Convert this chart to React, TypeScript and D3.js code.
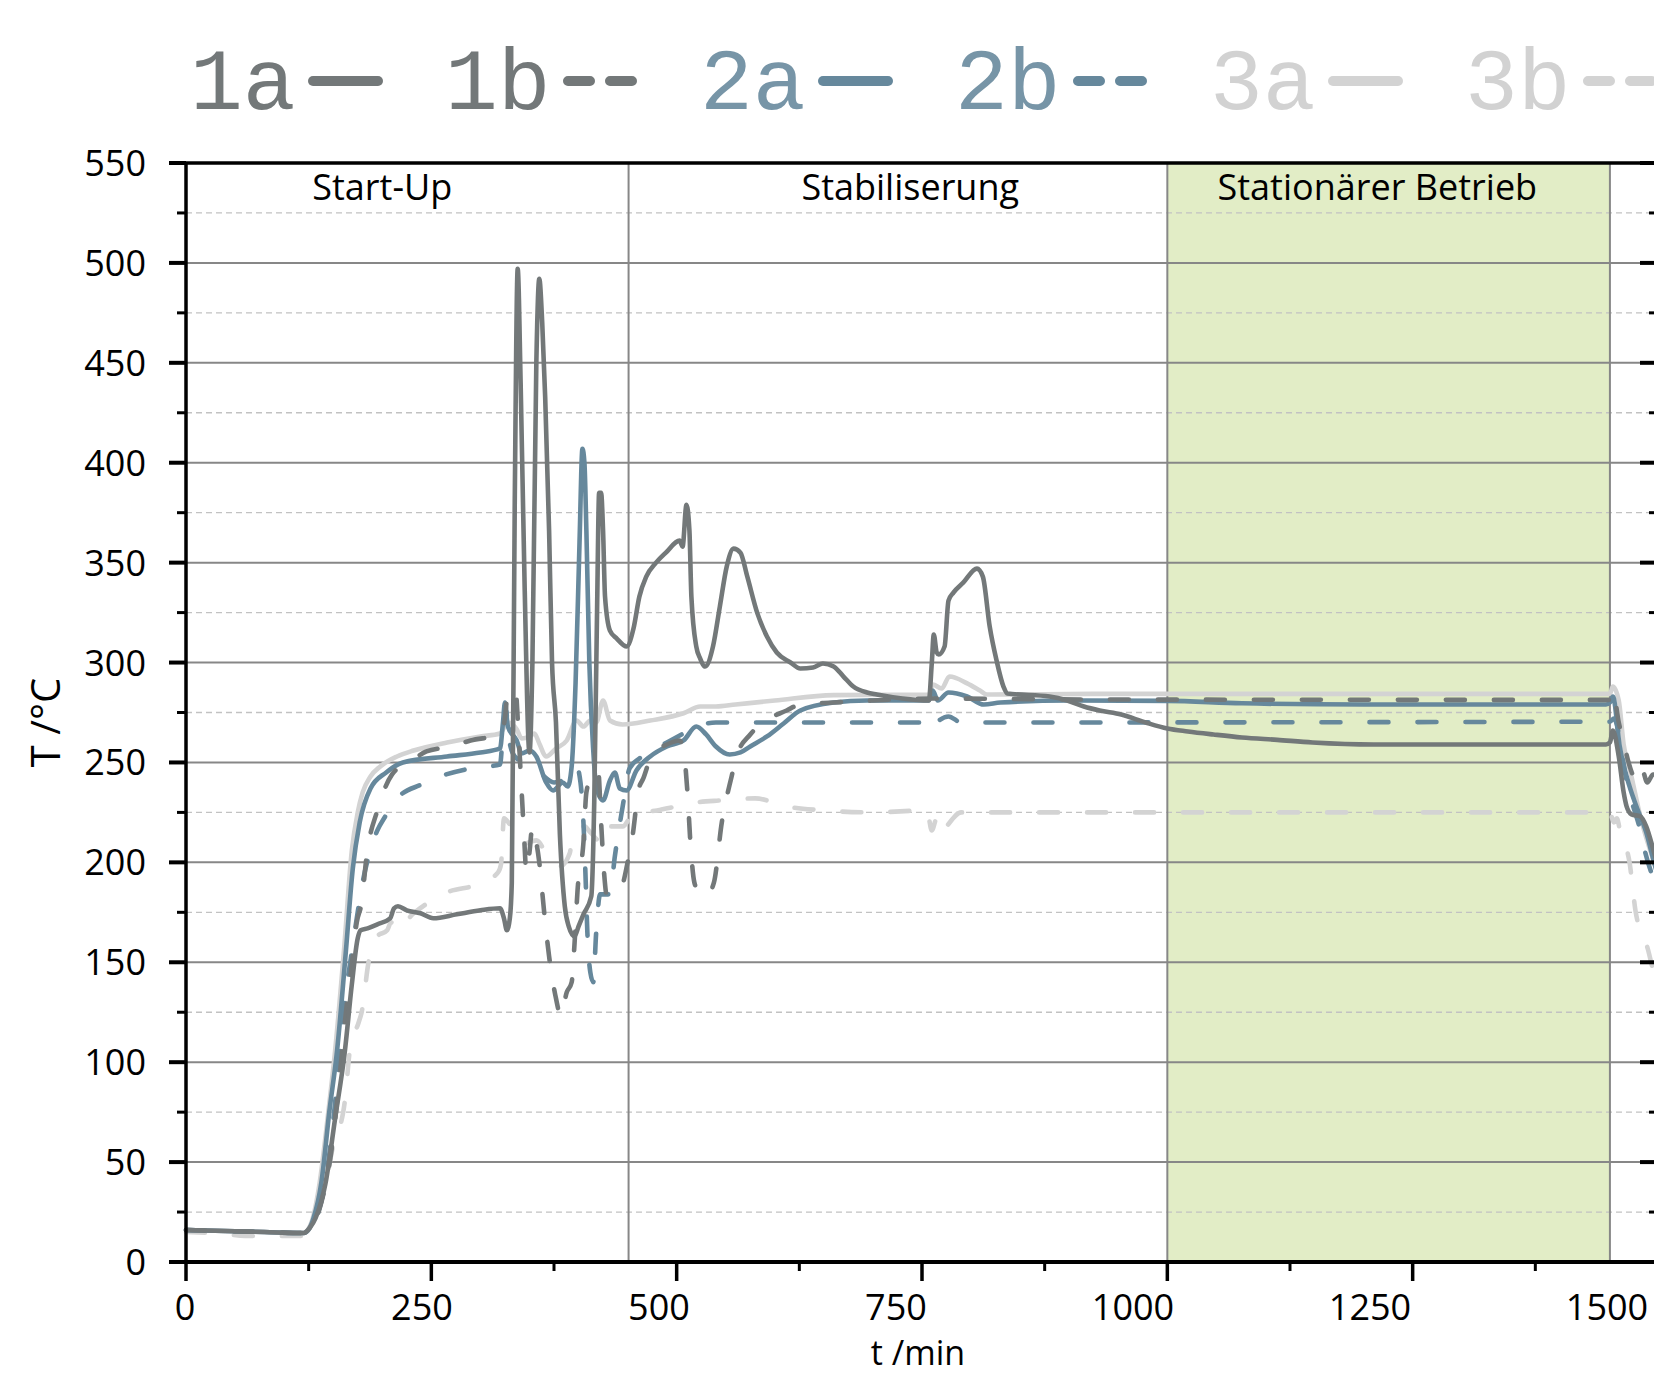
import * as d3 from "d3";

const W = 1654;
const H = 1376;
const PLOT = { left: 186, right: 1658, top: 163, bottom: 1262 };

// t (min), T (°C)
const s1a: [number, number][] = [
  [0, 16], [40, 15.5], [80, 15], [120, 14.5], [126, 17], [132, 22], [142, 39], [152, 72], [162, 106],
  [169, 139], [175, 162], [178, 166], [185, 167], [195, 169], [208, 172], [212, 177], [216, 178],
  [225, 176], [239, 174.5], [252, 172], [276, 174], [300, 176], [320, 177], [324, 172], [327, 166],
  [330, 172], [332, 190], [335, 380], [338, 497], [341, 440], [345, 340], [350, 255], [353, 300],
  [357, 450], [360, 492], [363, 470], [366, 433], [370, 366], [373, 300], [377, 270], [381, 214],
  [386, 178], [390, 168], [396, 163], [400, 168], [405, 174], [413, 183], [416, 230], [419, 330],
  [421, 385], [423, 385], [425, 366], [427, 333], [432, 316], [439, 312], [449, 308], [456, 317],
  [462, 333], [469, 343], [479, 350], [489, 355], [503, 361], [506, 358], [510, 379], [513, 366],
  [515, 333], [520, 308], [524, 302], [529, 298], [537, 308], [544, 328], [551, 348], [558, 357],
  [565, 355], [572, 343], [582, 325], [592, 313], [602, 305], [616, 300], [626, 297], [639, 297.5],
  [649, 299.5], [660, 298], [670, 293], [680, 288], [694, 285], [704, 284], [730, 282], [757, 281],
  [760, 300], [762, 314], [765, 305], [767, 304], [773, 308], [777, 331], [782, 335], [792, 340],
  [806, 347], [812, 343], [819, 318], [826, 301], [833, 288], [837, 284.5], [880, 283], [898, 281],
  [915, 278], [931, 276], [953, 274], [978, 270], [1000, 267], [1021, 265.5], [1047, 264],
  [1076, 262.5], [1112, 261.3], [1148, 260], [1210, 259], [1447, 259], [1451, 260], [1454, 266],
  [1460, 253], [1465, 235], [1468, 228], [1473, 224], [1482, 223], [1488, 218], [1496, 205], [1500, 198],
];

const s1b: [number, number][] = [
  [0, 16], [40, 15.5], [80, 15], [120, 14.5], [128, 18], [138, 30], [148, 55], [157, 95], [163, 125],
  [168, 145], [174, 170], [179, 180], [184, 203], [195, 226], [210, 244], [230, 251], [245, 255.5],
  [270, 258], [290, 261], [320, 264], [325, 272], [328, 285], [336, 286], [338, 272], [341, 245],
  [344, 218], [347, 195], [350, 205], [353, 218], [357, 210], [360, 200], [365, 175], [370, 153],
  [377, 132], [382, 123], [388, 135], [393, 140], [396, 160], [399, 186], [405, 210], [408, 235],
  [414, 244], [420, 246], [423, 220], [426, 195], [429, 183], [436, 185], [444, 188], [450, 200],
  [455, 213], [461, 236], [466, 242], [475, 254], [490, 259], [503, 261], [508, 252], [511, 235],
  [514, 210], [518, 190], [524, 184], [530, 183], [538, 190], [546, 220], [556, 243], [561, 253],
  [575, 264], [585, 269], [612, 276], [626, 279], [660, 280], [700, 281], [760, 282], [930, 281.5],
  [1451, 281.3], [1454, 286], [1460, 270], [1466, 258], [1470, 250], [1476, 242], [1480, 240],
  [1484, 246], [1489, 240], [1495, 244], [1500, 243],
];

const s2a: [number, number][] = [
  [0, 16], [40, 15.5], [80, 15], [120, 14.5], [126, 17], [130, 22], [138, 40], [146, 75], [154, 106],
  [163, 156], [170, 197], [177, 220], [188, 237], [204, 245], [221, 250], [266, 253], [300, 255],
  [320, 257], [323, 270], [325, 280], [328, 268], [337, 261], [342, 254.5], [350, 256], [357, 253],
  [367, 240], [374, 236], [384, 240], [389, 238], [393, 248], [397, 290], [401, 360], [404, 407],
  [406, 400], [408, 366], [411, 300], [415, 256], [418, 238], [425, 231], [432, 241], [437, 245],
  [442, 237], [449, 236], [459, 246], [473, 253], [490, 258], [507, 261], [520, 268], [530, 264],
  [540, 258], [554, 254], [565, 255], [575, 258], [592, 263], [609, 269.5], [626, 276], [660, 280],
  [694, 281], [757, 281], [761, 286], [766, 281], [777, 285], [796, 283], [813, 279], [830, 280],
  [900, 281], [1000, 280.8], [1076, 279.6], [1200, 279], [1447, 279], [1451, 280], [1454, 283],
  [1461, 258], [1471, 238], [1478, 228], [1488, 215], [1496, 200], [1500, 193],
];

const s2b: [number, number][] = [
  [0, 16], [40, 15.5], [80, 15], [120, 14.5], [128, 18], [135, 25], [145, 50], [152, 80], [157, 105],
  [163, 135], [168, 152], [174, 172], [180, 190], [186, 203], [195, 216], [203, 223], [215, 232],
  [240, 239], [265, 244], [290, 247], [320, 249], [323, 265], [326, 276], [329, 262], [335, 253],
  [345, 250], [360, 245], [375, 240], [390, 243], [398, 248], [402, 240], [405, 220], [407, 195],
  [409, 165], [412, 145], [415, 140], [418, 165], [422, 184], [432, 184], [437, 203], [445, 228],
  [452, 247], [462, 252], [475, 256], [490, 260], [505, 264], [520, 268], [540, 270], [750, 270],
  [758, 266], [765, 270], [777, 273], [790, 270], [1451, 270.4], [1455, 272], [1468, 241],
  [1473, 231], [1482, 216], [1487, 205], [1496, 191], [1500, 186],
];

const s3a: [number, number][] = [
  [0, 16], [40, 15.5], [80, 15], [120, 14.5], [124, 16], [128, 20], [136, 39], [145, 75], [152, 106],
  [161, 156], [169, 206], [175, 225], [180, 235], [188, 243], [198, 248], [215, 253], [232, 256],
  [266, 260], [300, 263], [320, 264.5], [328, 270], [337, 266.6], [342, 262], [350, 263],
  [355, 264.5], [360, 259.5], [367, 253], [377, 257], [388, 261], [398, 271], [405, 268], [412, 271],
  [418, 270], [425, 281], [432, 271], [445, 269], [473, 271], [507, 274.6], [524, 278], [540, 278],
  [560, 279], [600, 281], [660, 283.7], [757, 284], [761, 289], [770, 287], [778, 293], [796, 289.6],
  [809, 286], [816, 284], [930, 284.3], [1451, 284.3], [1454, 288], [1460, 281], [1465, 259],
  [1472, 245], [1482, 223], [1496, 200], [1500, 194],
];

const s3b: [number, number][] = [
  [0, 15], [40, 14], [60, 13], [100, 13], [120, 13], [128, 18], [135, 28], [140, 34], [149, 56],
  [162, 81], [167, 106], [176, 120], [179, 125], [186, 150], [195, 163], [205, 166], [209, 170],
  [213, 166], [232, 174.5], [266, 185], [300, 189.5], [318, 195], [321, 199], [324, 222], [330, 219],
  [337, 214], [342, 209], [357, 211], [371, 201], [381, 198], [391, 204.5], [394, 213], [406, 218],
  [412, 215], [424, 210], [427, 218], [445, 218], [456, 224.5], [480, 226], [500, 228], [520, 230],
  [545, 231], [580, 232], [612, 228], [650, 226], [700, 225], [755, 226], [760, 216], [765, 222],
  [770, 215], [775, 218], [790, 225], [1451, 225], [1455, 220], [1458, 222], [1462, 214], [1471, 200],
  [1477, 176], [1490, 156], [1495, 146], [1500, 138],
];

const SERIES_LABELS = ["1a", "1b", "2a", "2b", "3a", "3b"];
const SERIES_DATA = [s1a, s1b, s2a, s2b, s3a, s3b];
const LINE_COLORS = ["#737879", "#737879", "#66889c", "#66889c", "#d3d3d3", "#d3d3d3"];
const TEXT_COLORS = ["#737879", "#737879", "#7795a7", "#7795a7", "#d2d2d2", "#d2d2d2"];
const DASHED = [false, true, false, true, false, true];
const DRAW_ORDER = [4, 5, 2, 3, 1, 0];

const PHASE_BOUNDS = [451, 1000, 1451];
const PHASE_LABELS = ["Start-Up", "Stabiliserung", "Stationärer Betrieb"];
const PHASE_LABEL_T = [200, 738, 1214];

const X_MAJOR = [0, 250, 500, 750, 1000, 1250, 1500];
const X_MINOR = [125, 375, 625, 875, 1125, 1375];
const Y_MAJOR = d3.range(0, 551, 50);
const Y_MINOR = d3.range(25, 550, 50);

const FONT = "'Open Sans', 'Noto Sans', sans-serif";

export default function App() {
  const x = d3.scaleLinear().domain([0, 1500]).range([PLOT.left, PLOT.right]);
  const y = d3.scaleLinear().domain([0, 550]).range([PLOT.bottom, PLOT.top]);
  // tick labels in the original sit on a slightly compressed grid
  const xLabel = d3.scaleLinear().domain([0, 1500]).range([185, 1607]);

  const line = d3
    .line<[number, number]>()
    .x((d) => x(d[0]))
    .y((d) => y(d[1]))
    .curve(d3.curveMonotoneX);

  const legendX = (i: number) => 190 + i * 255;

  return (
    <svg
      width={W}
      height={H}
      viewBox={`0 0 ${W} ${H}`}
      style={{ position: "absolute", left: 0, top: 0, background: "#fff" }}
    >
      {/* steady-state band */}
      <rect
        x={x(PHASE_BOUNDS[1])}
        y={PLOT.top}
        width={x(PHASE_BOUNDS[2]) - x(PHASE_BOUNDS[1])}
        height={PLOT.bottom - PLOT.top}
        fill="#e2edc6"
      />

      {/* grid */}
      {Y_MINOR.map((v) => (
        <line
          key={"ym" + v}
          x1={PLOT.left}
          x2={PLOT.right}
          y1={y(v)}
          y2={y(v)}
          stroke="#c2c2c2"
          strokeWidth={1.3}
          strokeDasharray="6 4"
        />
      ))}
      {Y_MAJOR.filter((v) => v > 0 && v < 550).map((v) => (
        <line
          key={"yM" + v}
          x1={PLOT.left}
          x2={PLOT.right}
          y1={y(v)}
          y2={y(v)}
          stroke="#878787"
          strokeWidth={2}
        />
      ))}
      {PHASE_BOUNDS.map((t) => (
        <line
          key={"pb" + t}
          x1={x(t)}
          x2={x(t)}
          y1={PLOT.top}
          y2={PLOT.bottom}
          stroke="#878787"
          strokeWidth={2}
        />
      ))}

      {PHASE_LABELS.map((s, i) => (
        <text
          key={s}
          x={x(PHASE_LABEL_T[i])}
          y={200}
          textAnchor="middle"
          fontFamily={FONT}
          fontSize={36}
          fill="#000"
        >
          {s}
        </text>
      ))}

      {/* series */}
      {DRAW_ORDER.map((i) => (
        <path
          key={SERIES_LABELS[i]}
          d={line(SERIES_DATA[i]) || ""}
          fill="none"
          stroke={LINE_COLORS[i]}
          strokeWidth={4.6}
          strokeLinejoin="round"
          strokeLinecap="round"
          strokeDasharray={DASHED[i] ? "19 29" : undefined}
        />
      ))}

      {/* axes */}
      <line x1={169} x2={W} y1={PLOT.top} y2={PLOT.top} stroke="#000" strokeWidth={3.5} />
      <line x1={169} x2={W} y1={PLOT.bottom} y2={PLOT.bottom} stroke="#000" strokeWidth={4} />
      <line x1={PLOT.left} x2={PLOT.left} y1={PLOT.top} y2={PLOT.bottom} stroke="#000" strokeWidth={3.5} />

      {Y_MAJOR.map((v) => (
        <g key={"yt" + v}>
          <line x1={169} x2={PLOT.left} y1={y(v)} y2={y(v)} stroke="#000" strokeWidth={4} />
          <line x1={PLOT.right - 18} x2={PLOT.right} y1={y(v)} y2={y(v)} stroke="#000" strokeWidth={4} />
          <text
            x={146}
            y={y(v)}
            dy="0.36em"
            textAnchor="end"
            fontFamily={FONT}
            fontSize={36}
            fill="#000"
          >
            {v}
          </text>
        </g>
      ))}
      {Y_MINOR.map((v) => (
        <g key={"ytm" + v}>
          <line x1={177} x2={PLOT.left} y1={y(v)} y2={y(v)} stroke="#000" strokeWidth={3} />
          <line x1={PLOT.right - 9} x2={PLOT.right} y1={y(v)} y2={y(v)} stroke="#000" strokeWidth={3} />
        </g>
      ))}

      {X_MAJOR.map((v) => (
        <g key={"xt" + v}>
          <line x1={x(v)} x2={x(v)} y1={PLOT.bottom} y2={PLOT.bottom + 19} stroke="#000" strokeWidth={3.5} />
          <text
            x={xLabel(v)}
            y={1320}
            textAnchor="middle"
            fontFamily={FONT}
            fontSize={36}
            fill="#000"
          >
            {v}
          </text>
        </g>
      ))}
      {X_MINOR.map((v) => (
        <line
          key={"xtm" + v}
          x1={x(v)}
          x2={x(v)}
          y1={PLOT.bottom}
          y2={PLOT.bottom + 9}
          stroke="#000"
          strokeWidth={3}
        />
      ))}

      {/* axis titles */}
      <text
        transform={`translate(60, ${(PLOT.top + PLOT.bottom) / 2 + 10}) rotate(-90)`}
        textAnchor="middle"
        fontFamily={FONT}
        fontSize={40}
        fill="#000"
      >
        T /°C
      </text>
      <text x={918} y={1365} textAnchor="middle" fontFamily={FONT} fontSize={34} fill="#000">
        t /min
      </text>

      {/* legend */}
      {SERIES_LABELS.map((s, i) => (
        <g key={"lg" + s}>
          <text
            x={legendX(i)}
            y={109}
            fontFamily="'Liberation Mono', 'DejaVu Sans Mono', monospace"
            fontSize={88}
            fill={TEXT_COLORS[i]}
          >
            {s}
          </text>
          <line
            x1={legendX(i) + 123}
            x2={legendX(i) + 188}
            y1={81}
            y2={81}
            stroke={LINE_COLORS[i]}
            strokeWidth={10}
            strokeLinecap="round"
            strokeDasharray={DASHED[i] ? "22 20" : undefined}
          />
        </g>
      ))}
    </svg>
  );
}
